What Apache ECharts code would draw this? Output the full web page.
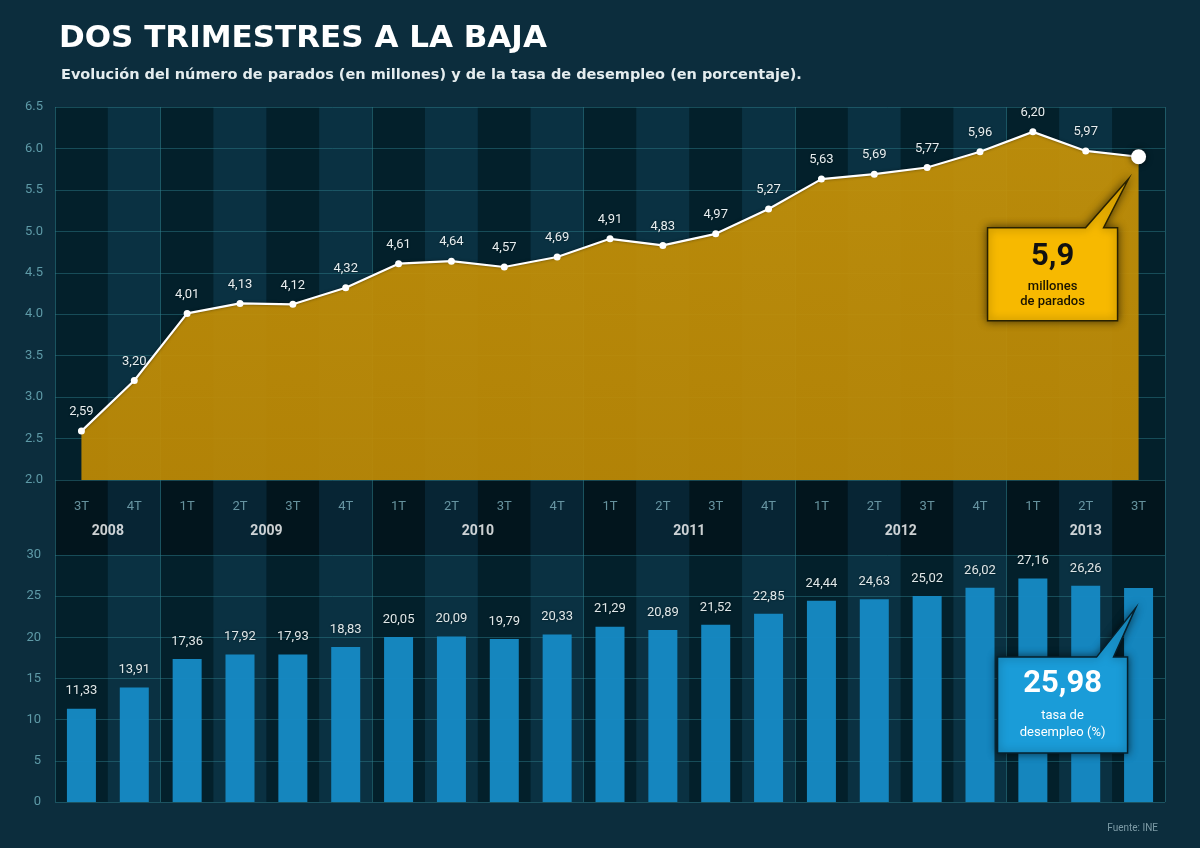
<!DOCTYPE html>
<html>
<head>
<meta charset="utf-8">
<script src="https://cdn.jsdelivr.net/npm/echarts@6/dist/echarts.min.js"></script>
<style>
html,body{margin:0;padding:0;background:#0c2d3d;}
#c{width:1200px;height:848px;}
</style>
</head>
<body>
<div id="c"></div>
<script>
const quarters = ['3T','4T','1T','2T','3T','4T','1T','2T','3T','4T','1T','2T','3T','4T','1T','2T','3T','4T','1T','2T','3T'];
const years = ['2008','2009','2010','2011','2012','2013'];
const quartersPerYear = [2,4,4,4,4,3];
const parados = [2.59,3.20,4.01,4.13,4.12,4.32,4.61,4.64,4.57,4.69,4.91,4.83,4.97,5.27,5.63,5.69,5.77,5.96,6.20,5.97,5.90];
const tasa = [11.33,13.91,17.36,17.92,17.93,18.83,20.05,20.09,19.79,20.33,21.29,20.89,21.52,22.85,24.44,24.63,25.02,26.02,27.16,26.26,25.98];
const paradosTicks = [2.0, 6.5, 0.5];
const tasaTicks = [0, 30, 5];

const FONT = 'Roboto, "Noto Sans", sans-serif';
const HEAD = '"DejaVu Sans", Roboto, sans-serif';
const lastIdx = parados.length - 1;
const comma = (v, d) => v.toFixed(d).replace('.', ',');

// year starts
const yearStarts = [];
let acc = 0;
quartersPerYear.forEach(n => { yearStarts.push(acc); acc += n; });
const yearCenters = quartersPerYear.map((n, i) => yearStarts[i] + (n - 1) / 2);

const gridLineColor = 'rgba(45,125,138,0.48)';
const bandColors = ['#03202b', '#0a3142'];
const stripColors = ['#02151d', '#072534'];
const splitLineX = {
  show: true,
  interval: (idx) => yearStarts.includes(idx),
  lineStyle: { color: 'rgba(45,125,138,0.55)', width: 1 }
};

const chart = echarts.init(document.getElementById('c'), null, { renderer: 'canvas' });

const catAxis = (gridIndex, colors) => ({
  type: 'category', gridIndex, data: quarters, boundaryGap: true, z: 0,
  axisLine: { show: false }, axisTick: { show: false }, axisLabel: { show: false },
  splitArea: { show: true, interval: 0, areaStyle: { color: colors } },
  splitLine: splitLineX
});

const option = {
  backgroundColor: '#0c2d3d',
  animation: false,
  title: [
    { text: 'DOS TRIMESTRES A LA BAJA', left: 54, top: 18,
      textStyle: { color: '#ffffff', fontSize: 31, fontWeight: 'bold', fontFamily: HEAD } },
    { text: 'Evolución del número de parados (en millones) y de la tasa de desempleo (en porcentaje).', left: 56, top: 63,
      textStyle: { color: '#e4ecee', fontSize: 14.5, fontWeight: 'bold', fontFamily: HEAD } },
    { text: 'Fuente: INE', right: 37, top: 818,
      textStyle: { color: '#7d9ba6', fontSize: 10, fontWeight: 'normal', fontFamily: FONT } }
  ],
  grid: [
    { left: 55, right: 35, top: 107, height: 373 },
    { left: 55, right: 35, top: 480, height: 75 },
    { left: 55, right: 35, top: 555, height: 247 }
  ],
  xAxis: [
    catAxis(0, bandColors),
    catAxis(1, stripColors),
    catAxis(2, bandColors),
    { type: 'value', gridIndex: 1, min: -0.5, max: 20.5, show: false }
  ],
  yAxis: [
    { type: 'value', gridIndex: 0, min: paradosTicks[0], max: paradosTicks[1], interval: paradosTicks[2], z: 1,
      axisLine: { show: false }, axisTick: { show: false },
      axisLabel: { color: '#5e9aa7', fontSize: 13, margin: 12, fontFamily: FONT, formatter: v => v.toFixed(1) },
      splitLine: { show: true, lineStyle: { color: gridLineColor, width: 1 } } },
    { type: 'value', gridIndex: 1, min: 0, max: 1, show: false },
    { type: 'value', gridIndex: 2, min: tasaTicks[0], max: tasaTicks[1], interval: tasaTicks[2], z: 1,
      axisLine: { show: false }, axisTick: { show: false },
      axisLabel: { color: '#5e9aa7', fontSize: 13, margin: 14, fontFamily: FONT },
      splitLine: { show: true, lineStyle: { color: gridLineColor, width: 1 } } }
  ],
  series: [
    {
      type: 'line', xAxisIndex: 0, yAxisIndex: 0, z: 3,
      data: parados.map((v, i) => i === lastIdx
        ? { value: v, symbolSize: 15, label: { show: false },
            itemStyle: { color: '#ffffff', borderColor: '#ffffff', shadowBlur: 6, shadowColor: 'rgba(0,0,0,0.7)' } }
        : v),
      symbol: 'circle', symbolSize: 7,
      itemStyle: { color: '#ffffff', borderColor: '#ffffff', borderWidth: 0 },
      lineStyle: { color: '#ffffff', width: 2.2, shadowBlur: 3, shadowColor: 'rgba(0,0,0,0.5)' },
      areaStyle: {
        color: new echarts.graphic.LinearGradient(0, 0, 0, 1, [
          { offset: 0, color: '#c79308' }, { offset: 1, color: '#bf8a04' }
        ]),
        opacity: 0.93
      },
      label: {
        show: true, position: 'top', distance: 9, color: '#e6eef0', fontSize: 13, fontFamily: FONT,
        textShadowColor: 'rgba(0,0,0,0.6)', textShadowBlur: 2,
        formatter: p => comma(p.value, 2)
      }
    },
    {
      type: 'bar', xAxisIndex: 2, yAxisIndex: 2, barWidth: 29, z: 3,
      data: tasa.map((v, i) => i === lastIdx ? { value: v, label: { show: false } } : v),
      itemStyle: { color: '#1689c3', opacity: 0.97 },
      label: {
        show: true, position: 'top', distance: 11, color: '#e6eef0', fontSize: 13, fontFamily: FONT,
        textShadowColor: 'rgba(0,0,0,0.6)', textShadowBlur: 2,
        formatter: p => comma(p.value, 2)
      }
    },
    {
      type: 'scatter', xAxisIndex: 3, yAxisIndex: 1, symbolSize: 0, silent: true, z: 4,
      data: quarters.map((q, i) => [i, 0.65, q]),
      label: { show: true, position: 'inside', color: '#7fb2be', fontSize: 13, fontFamily: FONT,
        formatter: p => p.value[2] }
    },
    {
      type: 'scatter', xAxisIndex: 3, yAxisIndex: 1, symbolSize: 0, silent: true, z: 4,
      data: years.map((y, i) => [yearCenters[i], 0.32, y]),
      label: { show: true, position: 'inside', color: '#ffffff', fontSize: 14, fontWeight: 'bold', fontFamily: FONT,
        formatter: p => p.value[2] }
    }
  ]
};
chart.setOption(option);

// Callouts anchored on the last data points
const pLine = chart.convertToPixel({ xAxisIndex: 0, yAxisIndex: 0 }, [lastIdx, parados[lastIdx]]);
const pBar = chart.convertToPixel({ xAxisIndex: 2, yAxisIndex: 2 }, [lastIdx, tasa[lastIdx]]);

function bubble(x0, y0, w, h, b1, b2, tip) {
  return [[x0, y0], [b1, y0], tip, [b2, y0], [x0 + w, y0], [x0 + w, y0 + h], [x0, y0 + h]];
}

const yb = { x: pLine[0] - 151, y: pLine[1] + 71, w: 130, h: 93 };
const bb = { x: pBar[0] - 141, y: pBar[1] + 69, w: 130, h: 96 };

chart.setOption({
  graphic: [
    { type: 'polygon', z: 100,
      shape: { points: bubble(yb.x, yb.y, yb.w, yb.h, yb.x + 98, yb.x + 116, [pLine[0] - 10, pLine[1] + 22]) },
      style: { fill: '#f7b900', stroke: '#2a2200', lineWidth: 1.5, shadowBlur: 8, shadowColor: 'rgba(0,0,0,0.6)' } },
    { type: 'text', z: 101, x: yb.x + yb.w / 2, y: yb.y + 30,
      style: { text: '5,9', fill: '#111111', font: 'bold 31px ' + FONT, align: 'center', verticalAlign: 'middle' } },
    { type: 'text', z: 101, x: yb.x + yb.w / 2, y: yb.y + 67,
      style: { text: 'millones\nde parados', fill: '#1a1400', font: '500 13px ' + FONT, align: 'center', verticalAlign: 'middle', lineHeight: 15 } },
    { type: 'polygon', z: 100,
      shape: { points: bubble(bb.x, bb.y, bb.w, bb.h, bb.x + 99, bb.x + 116, [pBar[0] - 3, pBar[1] + 20]) },
      style: { fill: '#1a9cd8', stroke: '#06202c', lineWidth: 1.5, shadowBlur: 8, shadowColor: 'rgba(0,0,0,0.6)' } },
    { type: 'text', z: 101, x: bb.x + bb.w / 2, y: bb.y + 27,
      style: { text: '25,98', fill: '#ffffff', font: 'bold 31px ' + FONT, align: 'center', verticalAlign: 'middle' } },
    { type: 'text', z: 101, x: bb.x + bb.w / 2, y: bb.y + 67,
      style: { text: 'tasa de\ndesempleo (%)', fill: '#ffffff', font: '13px ' + FONT, align: 'center', verticalAlign: 'middle', lineHeight: 17 } }
  ]
});
</script>
</body>
</html>
